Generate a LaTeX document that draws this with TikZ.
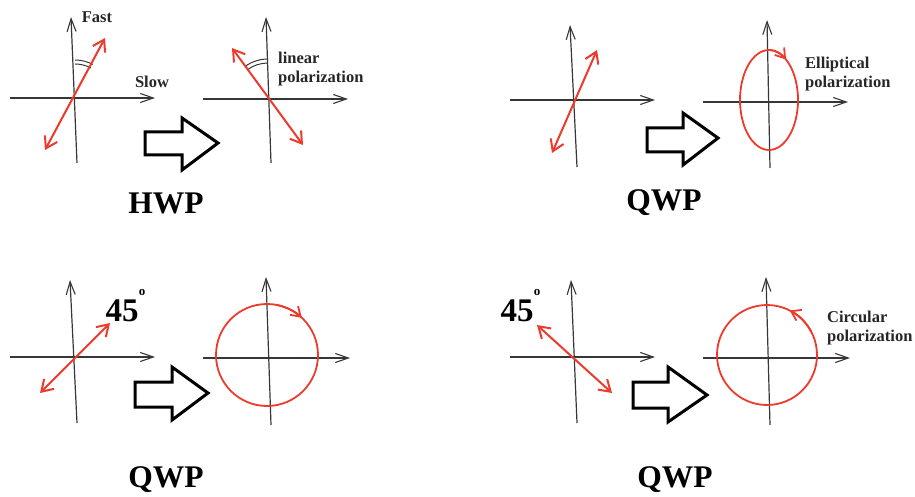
\documentclass[tikz,border=0pt]{standalone}
\usepackage{fontspec}
\setmainfont{Liberation Serif}
\usetikzlibrary{arrows.meta}
\definecolor{pred}{RGB}{236,58,44}
\definecolor{axgray}{RGB}{55,55,55}
\tikzset{
 axis/.style={draw=axgray, line width=1.2pt, -{Straight Barb[length=13pt,width=9pt,line width=1.1pt]}},
 pol/.style={draw=pred, line width=2pt, {Straight Barb[length=11pt,width=14pt]}-{Straight Barb[length=11pt,width=14pt]}},
 ring/.style={draw=pred, line width=1.8pt},
 spin/.style={draw=pred, line width=1.8pt, -{Straight Barb[length=9pt,width=12pt]}},
 bigarrow/.style={draw=black, line width=3pt, fill=white, line join=miter},
 lbl/.style={font=\bfseries\fontsize{16.5}{19.5}\selectfont, align=left, inner sep=0pt, text=black!85},
 plate/.style={font=\bfseries\fontsize{31.5}{36}\selectfont, inner sep=0pt},
 deg/.style={font=\bfseries\fontsize{33}{36}\selectfont, inner sep=0pt},
 degsign/.style={font=\bfseries\fontsize{13}{14}\selectfont, inner sep=0pt},
 angarc/.style={draw=axgray, line width=1pt},
}
\begin{document}
\begin{tikzpicture}[x=1pt,y=-1pt]
\path[use as bounding box] (0,0) rectangle (915,497);

% ---------- Panel 1 ----------
\coordinate (O1) at (75,98);
\coordinate (v1b) at (77,163); \coordinate (v1t) at (71,17);
\coordinate (h1l) at (10,98);  \coordinate (h1r) at (155,98);
\coordinate (r1a) at (45,150); \coordinate (r1b) at (105,38);
\draw[axis] (v1b) -- (v1t);
\draw[axis] (h1l) -- (h1r);
\draw[angarc] (O1) ++(90:34pt) arc[start angle=90, end angle=62, radius=34pt];
\draw[angarc] (O1) ++(90:38pt) arc[start angle=90, end angle=62, radius=38pt];
\draw[pol] (r1a) -- (r1b);
\node[lbl] (fast) at (97,17) {Fast};
\node[lbl] (slow) at (152,82) {Slow};

% ---------- Panel 2 ----------
\coordinate (O2) at (268,98);
\coordinate (v2b) at (271,163); \coordinate (v2t) at (266,17);
\coordinate (h2l) at (203,99);  \coordinate (h2r) at (348,99);
\coordinate (r2a) at (232,48);  \coordinate (r2b) at (303,145);
\draw[axis] (v2b) -- (v2t);
\draw[axis] (h2l) -- (h2r);
\draw[angarc] (O2) ++(90:35pt) arc[start angle=90, end angle=126, radius=35pt];
\draw[angarc] (O2) ++(90:39pt) arc[start angle=90, end angle=126, radius=39pt];
\draw[pol] (r2a) -- (r2b);
\node[lbl, anchor=west] (lin) at (278,69) {linear\\polarization};

% ---------- Panel 3 ----------
\coordinate (v3b) at (577,167); \coordinate (v3t) at (570,25);
\coordinate (h3l) at (510,100); \coordinate (h3r) at (655,100);
\coordinate (r3a) at (552,153); \coordinate (r3b) at (597,50);
\draw[axis] (v3b) -- (v3t);
\draw[axis] (h3l) -- (h3r);
\draw[pol] (r3a) -- (r3b);

% ---------- Panel 4 ----------
\coordinate (E4) at (769,100);
\coordinate (v4b) at (770,168); \coordinate (v4t) at (767,20);
\coordinate (h4l) at (703,102); \coordinate (h4r) at (848,102);
\draw[axis] (v4b) -- (v4t);
\draw[axis] (h4l) -- (h4r);
\draw[ring] (E4) ellipse [x radius=29pt, y radius=50pt];
\draw[spin] (E4) ++(88:29pt and 50pt) arc[start angle=88, end angle=54, x radius=29pt, y radius=50pt];
\node[lbl, anchor=west] (ell) at (805,74) {Elliptical\\polarization};

% ---------- Panel 5 ----------
\coordinate (v5b) at (77,423); \coordinate (v5t) at (70,280);
\coordinate (h5l) at (10,357); \coordinate (h5r) at (155,357);
\coordinate (r5a) at (40,393); \coordinate (r5b) at (110,323);
\draw[axis] (v5b) -- (v5t);
\draw[axis] (h5l) -- (h5r);
\draw[pol] (r5a) -- (r5b);
\node[deg] (d5) at (122,311) {45};
\node[degsign] (o5) at (142,292) {o};

% ---------- Panel 6 ----------
\coordinate (C6) at (267,355);
\coordinate (v6b) at (271,425); \coordinate (v6t) at (266,277);
\coordinate (h6l) at (203,358); \coordinate (h6r) at (350,358);
\draw[axis] (v6b) -- (v6t);
\draw[axis] (h6l) -- (h6r);
\draw[ring] (C6) circle[radius=51pt];
\draw[spin] (C6) ++(80:51pt) arc[start angle=80, end angle=47, radius=51pt];

% ---------- Panel 7 ----------
\coordinate (v7b) at (577,423); \coordinate (v7t) at (571,280);
\coordinate (h7l) at (510,357); \coordinate (h7r) at (655,357);
\coordinate (r7a) at (537,325); \coordinate (r7b) at (612,393);
\draw[axis] (v7b) -- (v7t);
\draw[axis] (h7l) -- (h7r);
\draw[pol] (r7a) -- (r7b);
\node[deg] (d7) at (517,311) {45};
\node[degsign] (o7) at (537,292) {o};

% ---------- Panel 8 ----------
\coordinate (C8) at (767,355);
\coordinate (v8b) at (770,425); \coordinate (v8t) at (766,277);
\coordinate (h8l) at (703,358); \coordinate (h8r) at (850,358);
\draw[axis] (v8b) -- (v8t);
\draw[axis] (h8l) -- (h8r);
\draw[ring] (C8) circle[radius=50pt];
\draw[spin] (C8) ++(28:50pt) arc[start angle=28, end angle=63, radius=50pt];
\node[lbl, anchor=west] (circ) at (827,328) {Circular\\polarization};

% ---------- Big arrows ----------
\draw[bigarrow] (145,132) -- (182,132) -- (182,118) -- (218,143) -- (182,170) -- (182,155) -- (145,155) -- cycle;
\draw[bigarrow] (647,128) -- (683,128) -- (683,113) -- (718,138) -- (683,165) -- (683,152) -- (647,152) -- cycle;
\draw[bigarrow] (135,382) -- (172,382) -- (172,367) -- (208,393) -- (172,420) -- (172,407) -- (135,407) -- cycle;
\draw[bigarrow] (633,382) -- (668,382) -- (668,367) -- (707,395) -- (668,422) -- (668,408) -- (633,408) -- cycle;

% ---------- Plate labels ----------
\node[plate] (hwp) at (166,203) {HWP};
\node[plate] (qwp1) at (664,203) {QWP};
\node[plate] (qwp2) at (166,480) {QWP};
\node[plate] (qwp3) at (675,480) {QWP};
\end{tikzpicture}
\end{document}
